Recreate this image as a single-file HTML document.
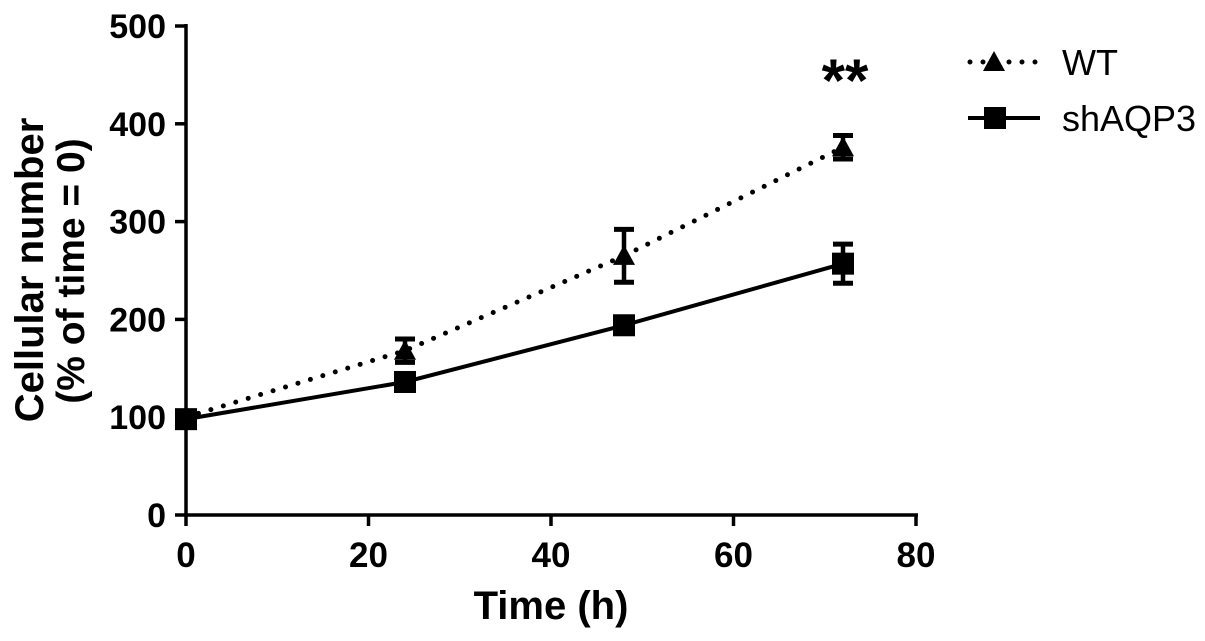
<!DOCTYPE html>
<html><head><meta charset="utf-8"><style>
body{margin:0;background:#fff}
svg{display:block;font-family:"Liberation Sans",Arial,sans-serif;font-weight:bold}
</style></head><body>
<svg id="chart" width="1205" height="641" viewBox="0 0 1205 641"></svg>
<script>
const timepoints=[0,24,48,72];
const wtMean=[100,168,265,376];
const wtErr=[5,12,27,12];
const shMean=[98,136,194,257];
const shErr=[6,4,4,20];
const yTicks=[0,100,200,300,400,500];
const xTicks=[0,20,40,60,80];
const NS="http://www.w3.org/2000/svg";
const svg=document.getElementById('chart');
const X0=186,X1=916,Y0=515,Y1=26;
const xs=v=>X0+(v/80)*(X1-X0);
const ys=v=>Y0-(v/500)*(Y0-Y1);
function mk(t,a,p){const e=document.createElementNS(NS,t);for(const k in a)e.setAttribute(k,a[k]);(p||svg).appendChild(e);return e;}
let g=mk('g',{});
mk('line',{x1:X0,y1:Y0+2,x2:X0,y2:Y1-2,stroke:'#000','stroke-width':3.5},g);
yTicks.forEach(v=>{mk('line',{x1:X0-11,y1:ys(v),x2:X0,y2:ys(v),stroke:'#000','stroke-width':3.5},g);
const t=mk('text',{x:X0-20,y:ys(v)+12,'text-anchor':'end','font-size':34},g);t.textContent=v;
});
g=mk('g',{});
mk('line',{x1:X0-2,y1:Y0,x2:X1+2,y2:Y0,stroke:'#000','stroke-width':3.5},g);
xTicks.forEach(v=>{mk('line',{x1:xs(v),y1:Y0,x2:xs(v),y2:Y0+11,stroke:'#000','stroke-width':3.5},g);
const t=mk('text',{x:xs(v),y:567,'text-anchor':'middle','font-size':35},g);t.textContent=v;
});
let t=mk('text',{x:551,y:619,'text-anchor':'middle','font-size':40});t.textContent='Time (h)';

t=mk('text',{transform:'translate(43,270) rotate(-90)','text-anchor':'middle','font-size':40});t.textContent='Cellular number';

t=mk('text',{transform:'translate(84,271) rotate(-90)','text-anchor':'middle','font-size':39});t.textContent='(% of time = 0)';

function series(name,m,er,dash,marker){
 const sg=mk('g',{});
 const pts=timepoints.map((x,i)=>xs(x)+','+ys(m[i])).join(' ');
 const a={points:pts,fill:'none',stroke:'#000','stroke-width':dash?5:4};
 if(dash){a['stroke-dasharray']='0 13';a['stroke-linecap']='round';}
 mk('polyline',a,sg);
 timepoints.forEach((x,i)=>{const cx=xs(x),hi=ys(m[i]+er[i]),lo=ys(m[i]-er[i]);
  const e=mk('g',{},sg);
  mk('line',{x1:cx,y1:hi,x2:cx,y2:lo,stroke:'#000','stroke-width':4.5},e);
  mk('line',{x1:cx-10,y1:hi,x2:cx+10,y2:hi,stroke:'#000','stroke-width':5},e);
  mk('line',{x1:cx-10,y1:lo,x2:cx+10,y2:lo,stroke:'#000','stroke-width':5},e);
  const p=marker(cx,ys(m[i]),sg);});
}
const tri=(x,y,p)=>mk('polygon',{points:`${x},${y-11} ${x-11},${y+9} ${x+11},${y+9}`,fill:'#000'},p);
const sq=(x,y,p)=>mk('rect',{x:x-11,y:y-11,width:22,height:22,fill:'#000'},p);
series('wt',wtMean,wtErr,true,tri);
series('shaqp3',shMean,shErr,false,sq);
t=mk('text',{x:845,y:101,'text-anchor':'middle','font-size':60});t.textContent='**';

g=mk('g',{});
mk('line',{x1:970,y1:62,x2:1042,y2:62,stroke:'#000','stroke-width':5,'stroke-dasharray':'0 13','stroke-linecap':'round'},g);
tri(994,62,g);
t=mk('text',{x:1062,y:75,'font-size':36,'font-weight':'normal'},g);t.textContent='WT';
g=mk('g',{});
mk('line',{x1:968,y1:118,x2:1040,y2:118,stroke:'#000','stroke-width':4},g);
sq(995,118,g);
t=mk('text',{x:1062,y:131,'font-size':36,'font-weight':'normal'},g);t.textContent='shAQP3';
</script>
</body></html>
